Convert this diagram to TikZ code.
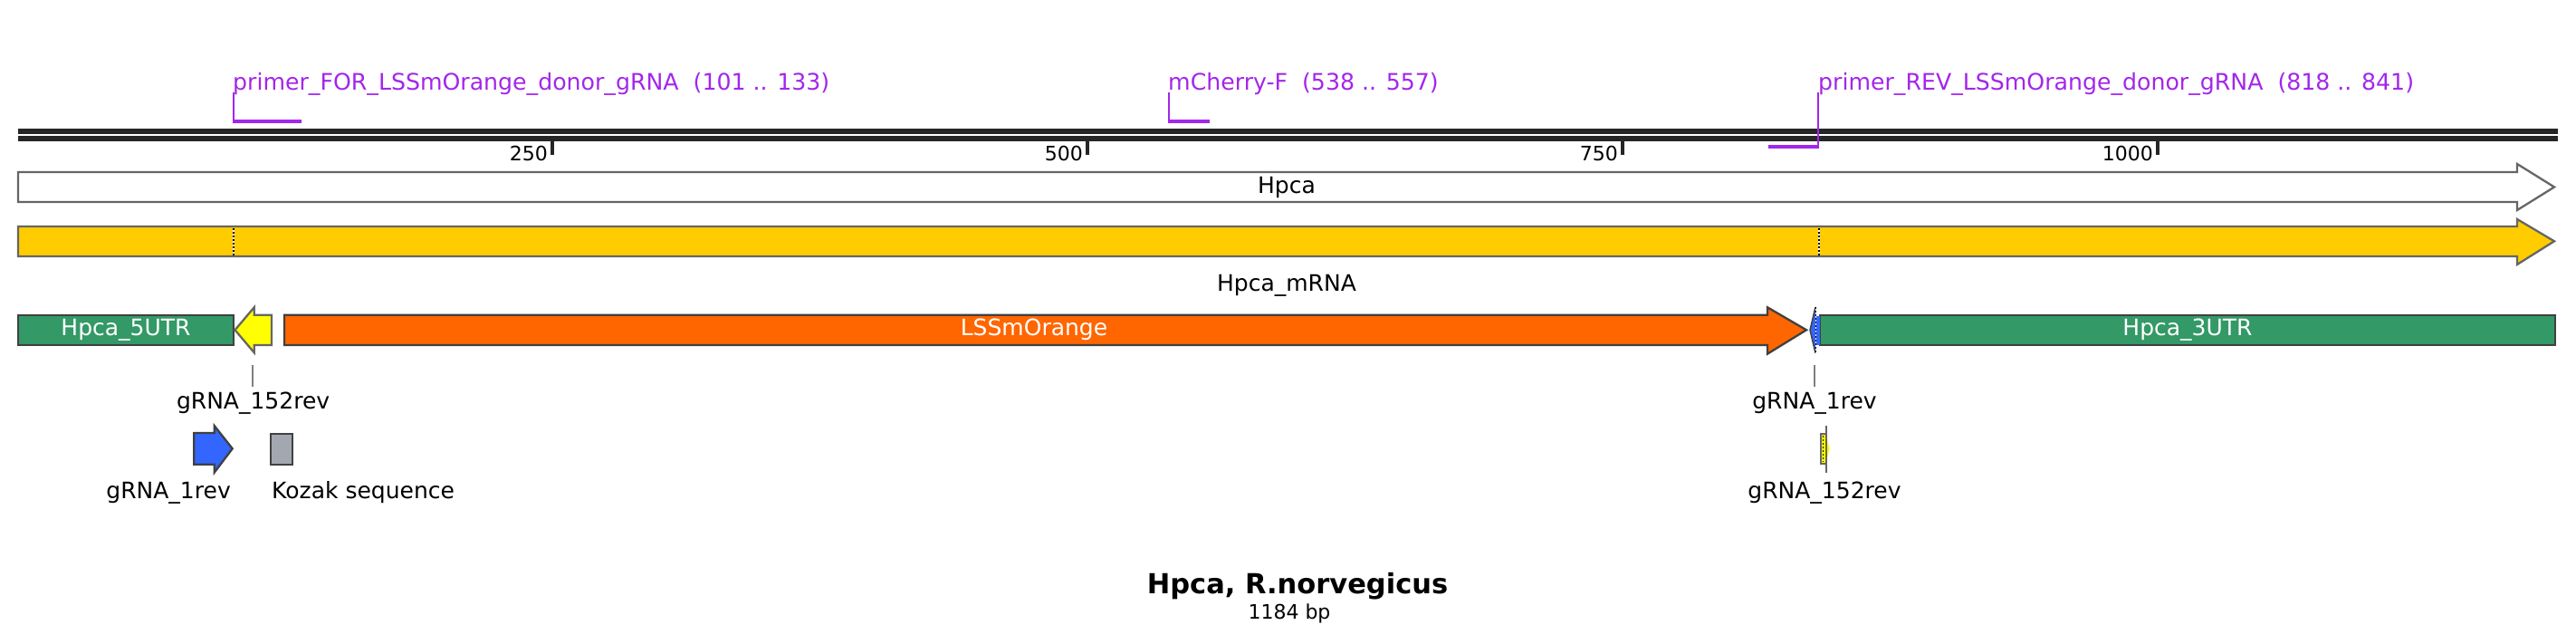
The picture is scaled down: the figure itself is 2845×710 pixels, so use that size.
\documentclass[tikz,border=0pt]{standalone}
\usepackage{fontspec}
\setmainfont{DejaVu Sans}
\definecolor{prim}{RGB}{163,38,235}
\definecolor{featgreen}{RGB}{51,153,102}
\definecolor{lssorange}{RGB}{255,102,0}
\definecolor{mrnayellow}{RGB}{255,204,0}
\definecolor{gyellow}{RGB}{255,255,0}
\definecolor{gblue}{RGB}{51,102,255}
\definecolor{kozakgray}{RGB}{163,168,176}
\definecolor{outl}{RGB}{64,64,64}
\definecolor{lightoutl}{RGB}{102,102,102}
\definecolor{seqline}{RGB}{38,38,38}
\definecolor{tickgray}{RGB}{128,128,128}
\tikzset{
  lbl/.style={inner sep=0pt, font=\fontsize{25}{30}\selectfont, text=black},
  wlbl/.style={inner sep=0pt, font=\fontsize{25}{30}\selectfont, text=white},
  primlbl/.style={inner sep=0pt, font=\fontsize{25.2}{30}\selectfont, text=prim, anchor=base west},
  numlbl/.style={inner sep=0pt, font=\fontsize{22}{26}\selectfont, text=black, anchor=base east},
  featshape/.style={draw=outl, line width=2.3pt, line join=miter},
  lightshape/.style={draw=lightoutl, line width=2.3pt, line join=miter},
  primvert/.style={draw=prim, line width=2pt},
  primbar/.style={draw=prim, line width=4.5pt},
  leader/.style={draw=tickgray, line width=2pt},
  dotline/.style={draw=black, line width=1.6pt, dash pattern=on 2pt off 2pt},
  whiteline/.style={draw=white, line width=1.6pt}
}
\begin{document}
\begin{tikzpicture}[x=1pt,y=-1pt]
\useasboundingbox (0,0) rectangle (2845,710);
\fill[white] (0,0) rectangle (2845,710);

% primers
\node[primlbl] (pfor) at (257,99) {primer\_FOR\_LSSmOrange\_donor\_gRNA\ \ (101 .. 133)};
\coordinate (pforA) at (258,102);
\coordinate (pforB) at (258,136);
\coordinate (pforC) at (257,134);
\coordinate (pforD) at (333,134);
\draw[primvert] (pforA) -- (pforB);
\draw[primbar] (pforC) -- (pforD);

\node[primlbl] (pmch) at (1290,99) {mCherry-F\ \ (538 .. 557)};
\coordinate (pmchA) at (1291,102);
\coordinate (pmchB) at (1291,136);
\coordinate (pmchC) at (1290,134);
\coordinate (pmchD) at (1336,134);
\draw[primvert] (pmchA) -- (pmchB);
\draw[primbar] (pmchC) -- (pmchD);

% sequence lines
\fill[seqline] (20,142.3) rectangle (2825,147.7);
\fill[seqline] (20,150) rectangle (2825,155.7);

\node[primlbl] (prev) at (2008,99) {primer\_REV\_LSSmOrange\_donor\_gRNA\ \ (818 .. 841)};
\coordinate (prevA) at (2008,102);
\coordinate (prevB) at (2008,164);
\coordinate (prevC) at (1953,162);
\coordinate (prevD) at (2009,162);
\draw[primvert] (prevA) -- (prevB);
\draw[primbar] (prevC) -- (prevD);

% ticks
\foreach \xx/\lab in {610/250, 1201/500, 1792/750, 2383/1000}{
  \fill[seqline] (\xx-2.2,155) rectangle (\xx+2.2,171);
  \node[numlbl] (tick\lab) at (\xx-5,177) {\lab};
}

% Hpca gene arrow
\draw[lightshape, fill=white] (20,190) -- (2780,190) -- (2780,181) -- (2821,206.5) -- (2780,232) -- (2780,223) -- (20,223) -- cycle;
\node[lbl] (hpca) at (1421,206.5) {Hpca};

% Hpca_mRNA arrow
\draw[featshape, draw=lightoutl, fill=mrnayellow] (20,250) -- (2780,250) -- (2780,242) -- (2821,266.3) -- (2780,292) -- (2780,283) -- (20,283) -- cycle;
\draw[whiteline] (258,251.5) -- (258,281.5);
\draw[dotline] (258,251.5) -- (258,281.5);
\draw[whiteline] (2009,251.5) -- (2009,281.5);
\draw[dotline] (2009,251.5) -- (2009,281.5);
\node[lbl, anchor=base] (mrna) at (1421,321) {Hpca\_mRNA};

% row of features
\draw[featshape, fill=featgreen] (20,347.7) rectangle (258,381);
\node[wlbl] (utr5) at (139,364.3) {Hpca\_5UTR};

\draw[lightshape, fill=gyellow] (300,347.7) -- (280.7,347.7) -- (280.7,339.3) -- (259.5,364.3) -- (280.7,389.3) -- (280.7,381) -- (300,381) -- cycle;

\draw[featshape, fill=lssorange] (314,347.7) -- (1952,347.7) -- (1952,339.3) -- (1995,364.3) -- (1952,390.7) -- (1952,381) -- (314,381) -- cycle;
\node[wlbl] (lss) at (1142,364.3) {LSSmOrange};

\draw[featshape, fill=featgreen] (2010,347.7) rectangle (2822,381);
\node[wlbl] (utr3) at (2416,364.3) {Hpca\_3UTR};

\fill[gblue] (2004,348.5) rectangle (2010,380.5);
\draw[draw=outl, line width=1.5pt, fill=gblue] (2005,339) -- (1999,364.3) -- (2005,390);
\draw[whiteline] (2005.5,339) -- (2005.5,390);
\draw[dotline] (2005.5,339) -- (2005.5,390);

% labels below
\coordinate (l1a) at (279,403);
\coordinate (l1b) at (279,427);
\draw[leader] (l1a) -- (l1b);
\node[lbl, anchor=base] (g152a) at (279.6,451.7) {gRNA\_152rev};

\coordinate (l2a) at (2004,403);
\coordinate (l2b) at (2004,427);
\draw[leader] (l2a) -- (l2b);
\node[lbl, anchor=base] (g1b) at (2004,451.7) {gRNA\_1rev};

% small features
\draw[featshape, fill=gblue] (214.3,478) -- (236.7,478) -- (236.7,470) -- (256.7,495.3) -- (236.7,521.7) -- (236.7,512.7) -- (214.3,512.7) -- cycle;
\node[lbl, anchor=base east] (g1a) at (255,550) {gRNA\_1rev};

\draw[featshape, fill=kozakgray] (299.3,479) rectangle (323.3,512.7);
\node[lbl, anchor=base west] (kozak) at (300,550) {Kozak sequence};

\coordinate (l3a) at (2016.7,470);
\coordinate (l3b) at (2016.7,521.7);
\fill[gyellow] (2017,481) -- (2020.5,495.3) -- (2017,510) -- cycle;
\draw[lightshape, line width=2pt, fill=gyellow] (2010.5,479.3) rectangle (2016.7,511.7);
\draw[leader, draw=lightoutl] (l3a) -- (l3b);
\draw[dotline, line width=1.4pt] (2013.6,481) -- (2013.6,510);
\node[lbl, anchor=base] (g152b) at (2015,550) {gRNA\_152rev};

% title
\node[inner sep=0pt, anchor=base, font=\fontsize{30.5}{36}\selectfont\bfseries] (title) at (1433,655) {Hpca, R.norvegicus};
\node[inner sep=0pt, anchor=base, font=\fontsize{22}{26}\selectfont] (bp) at (1424,683) {1184 bp};
\end{tikzpicture}
\end{document}
